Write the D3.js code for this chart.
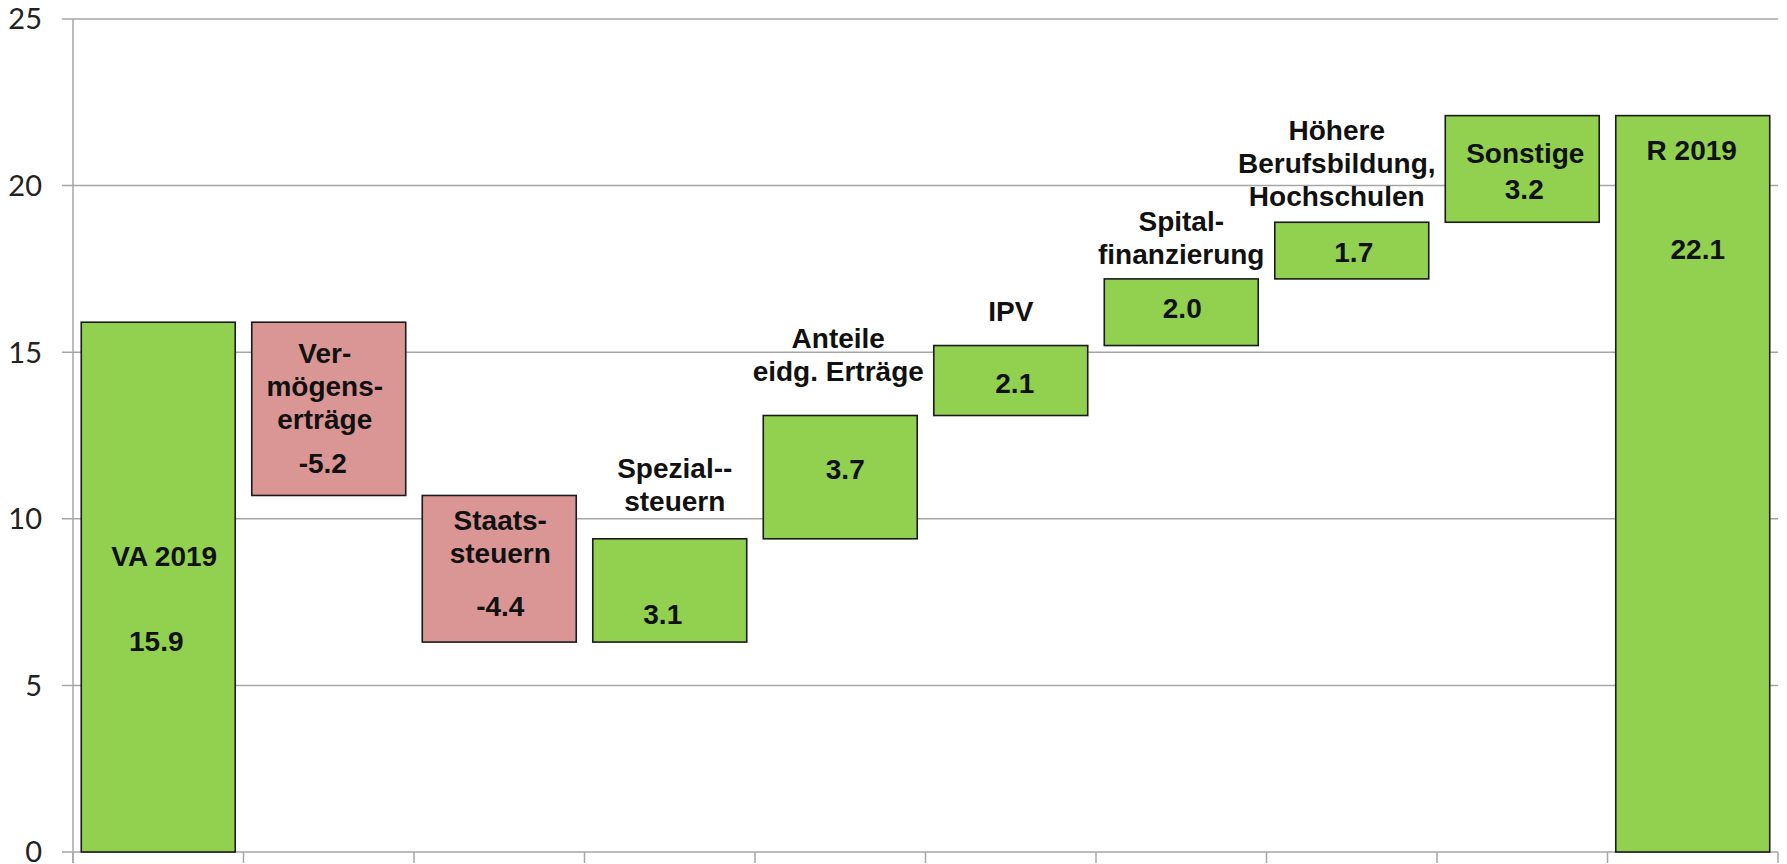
<!DOCTYPE html>
<html>
<head>
<meta charset="utf-8">
<script src="https://cdn.jsdelivr.net/npm/d3@7"></script>
<style>
    body { margin: 0; background: #fff; }
    .bar-label { font-family: "Liberation Sans", Arial, sans-serif; font-weight: bold; font-size: 28px; fill: #111; }
    .tick-label { font-family: Lato, "Open Sans", sans-serif; font-size: 29px; fill: #222; }
</style>
</head>
<body>
<div id="chart"></div>
<script>
// Kategorien und Werte (Mio.)
const categories = ["VA 2019", "Vermögenserträge", "Staatssteuern", "Spezialsteuern",
    "Anteile eidg. Erträge", "IPV", "Spitalfinanzierung",
    "Höhere Berufsbildung, Hochschulen", "Sonstige", "R 2019"];
const labelLines = [["VA 2019"], ["Ver-", "mögens-", "erträge"], ["Staats-", "steuern"],
    ["Spezial--", "steuern"], ["Anteile", "eidg. Erträge"], ["IPV"], ["Spital-", "finanzierung"],
    ["Höhere", "Berufsbildung,", "Hochschulen"], ["Sonstige"], ["R 2019"]];
const values = [15.9, -5.2, -4.4, 3.1, 3.7, 2.1, 2.0, 1.7, 3.2, 22.1];
const kinds = ["total", "delta", "delta", "delta", "delta", "delta", "delta", "delta", "delta", "total"];
const yTicks = [0, 5, 10, 15, 20, 25];

// Lage der Beschriftungen relativ zur Balkenoberkante (px): [Name, Wert, dxName, dxWert]
const labelPos = [[244, 329, 6, -2], [41, 151, -4, -6], [35, 121, 1, 1], [-61, 85, 5, -7],
    [-68, 63, -2, 5], [-25, 47, 0, 4], [-48, 39, 0, 1], [-82, 40, -15, 2], [47, 83, 3, 2], [44, 143, -1, 5]];

const W = 1787, H = 864;
const plotLeft = 73, plotRight = 1778, plotTop = 19, plotBottom = 852;

// Wasserfall berechnen
let run = 0;
const bars = categories.map((c, i) => {
    let y0, y1;
    if (kinds[i] === "total") { y0 = 0; y1 = values[i]; run = values[i]; }
    else { y0 = run; y1 = run + values[i]; run = y1; }
    return { cat: c, lines: labelLines[i], value: values[i], kind: kinds[i],
             lo: Math.min(y0, y1), hi: Math.max(y0, y1), i: i };
});

const x = d3.scaleBand()
    .domain(categories)
    .range([plotLeft, plotRight])
    .paddingInner(0.097)
    .paddingOuter(0.0485);

const y = d3.scaleLinear()
    .domain([0, 25])
    .range([plotBottom, plotTop]);

const svg = d3.select("#chart").append("svg")
    .attr("width", W)
    .attr("height", H);

// Gitterlinien
svg.append("g")
    .selectAll("line")
    .data(yTicks)
    .enter().append("line")
    .attr("x1", plotLeft - 11)
    .attr("x2", plotRight)
    .attr("y1", d => y(d))
    .attr("y2", d => y(d))
    .attr("stroke", "#a6a6a6")
    .attr("stroke-width", 1.5);

// Y-Achse
svg.append("line")
    .attr("x1", plotLeft).attr("x2", plotLeft)
    .attr("y1", y(25)).attr("y2", plotBottom + 11)
    .attr("stroke", "#a6a6a6")
    .attr("stroke-width", 1.5);

svg.append("g")
    .selectAll("text")
    .data(yTicks)
    .enter().append("text")
    .attr("class", "tick-label")
    .attr("x", 42)
    .attr("y", d => y(d))
    .attr("dy", "0.36em")
    .attr("text-anchor", "end")
    .text(d => d);

// Kategorie-Ticks unten
const step = x.step();
const edges = categories.map(c => x(c) - (step - x.bandwidth()) / 2).concat([plotRight]);
svg.append("g")
    .selectAll("line")
    .data(edges)
    .enter().append("line")
    .attr("x1", d => d).attr("x2", d => d)
    .attr("y1", plotBottom).attr("y2", plotBottom + 11)
    .attr("stroke", "#a6a6a6")
    .attr("stroke-width", 1.5);

// Balken
svg.append("g")
    .selectAll("rect")
    .data(bars)
    .enter().append("rect")
    .attr("x", d => x(d.cat))
    .attr("y", d => y(d.hi))
    .attr("width", x.bandwidth())
    .attr("height", d => y(d.lo) - y(d.hi))
    .attr("fill", d => d.value < 0 ? "#da9694" : "#92d050")
    .attr("stroke", "#1a1a1a")
    .attr("stroke-width", 1.6);

// Beschriftungen
bars.forEach(d => {
    const cx = x(d.cat) + x.bandwidth() / 2;
    const yt = y(d.hi);
    const p = labelPos[d.i];
    d.lines.forEach((t, k) => {
        svg.append("text")
            .attr("class", "bar-label")
            .attr("x", cx + p[2])
            .attr("y", yt + p[0] + k * 33)
            .attr("text-anchor", "middle")
            .text(t);
    });
    svg.append("text")
        .attr("class", "bar-label")
        .attr("x", cx + p[3])
        .attr("y", yt + p[1])
        .attr("text-anchor", "middle")
        .text(d.value.toFixed(1));
});
</script>
</body>
</html>
